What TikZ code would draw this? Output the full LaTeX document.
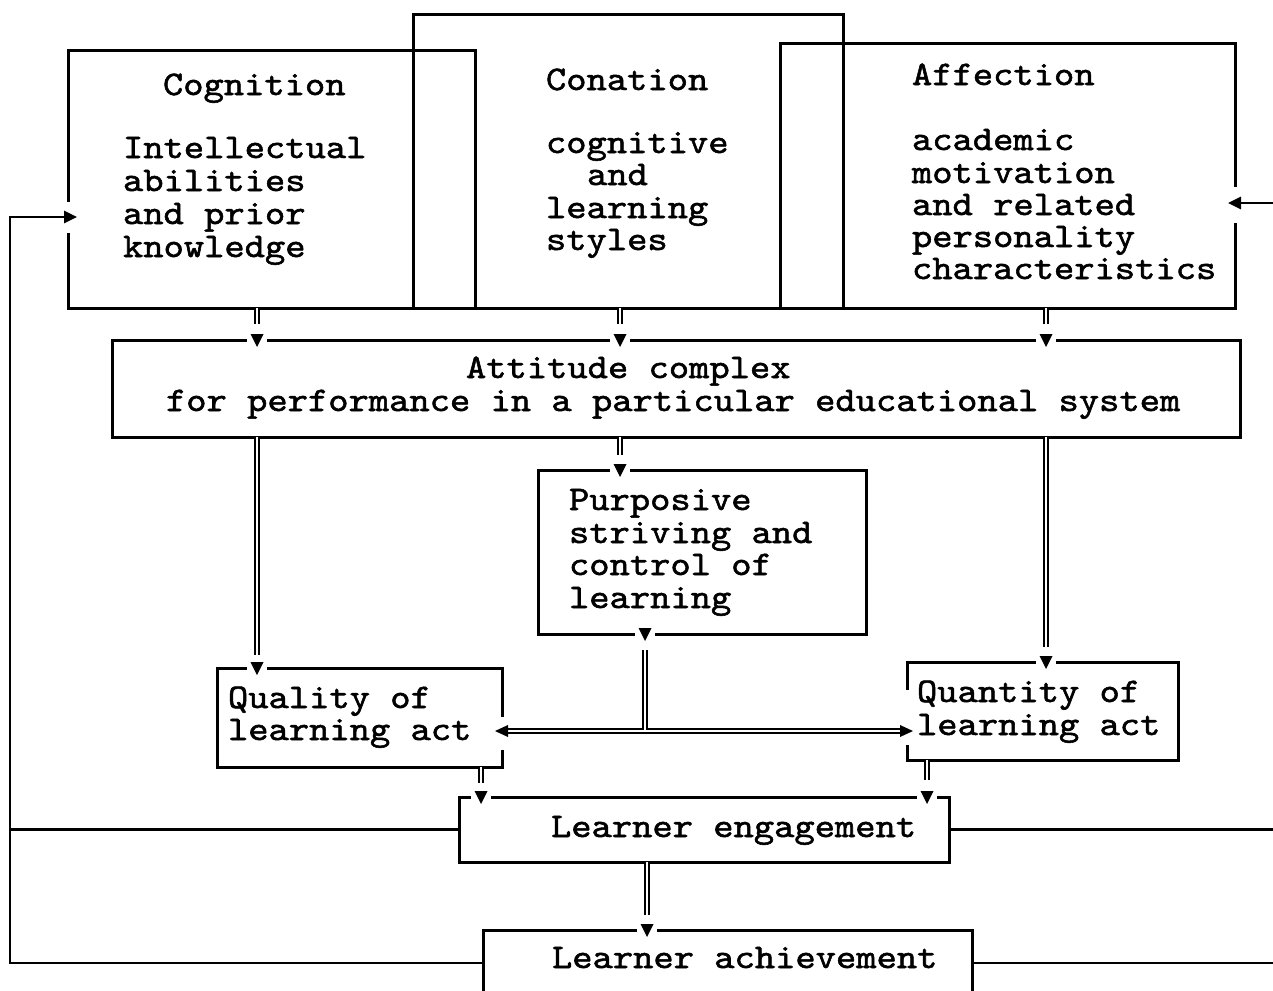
\documentclass[tikz,border=0pt]{standalone}
\usepackage{fontspec}
\newfontfamily\cour{lmmono10-regular.otf}[FakeStretch=1.12,FakeBold=1.6]
\usetikzlibrary{arrows.meta,calc}

\begin{document}
\begin{tikzpicture}[x=1pt,y=-1pt,
  box/.style={draw, line width=3pt, anchor=north west, inner sep=0pt, outer sep=0pt},
  txt/.style={anchor=base west, inner sep=0pt, outer sep=0pt,
              font=\cour\fontsize{34.5pt}{33pt}\selectfont},
  dbl/.style={draw, line width=2pt, double=white, double distance=2.8pt},
  fb/.style={line width=2.8pt},
  tip/.style={-{Triangle[width=12pt,length=13pt]}},
  % arrowhead sitting on a box edge, with a small white gap around it
  tipdown/.pic={\fill[white] (-10,-4) rectangle (10,4);
                \fill (-6.5,-6) -- (6.5,-6) -- (0,7) -- cycle;},
  tipleft/.pic={\fill (0,0) -- (13,-6) -- (13,6) -- cycle;},
  tipright/.pic={\fill (0,0) -- (-13,-6) -- (-13,6) -- cycle;}
]
\useasboundingbox (0,0) rectangle (1273,990);
\clip (0,0) rectangle (1273,990);

% ---------- boxes ----------
\node[box, minimum width=407pt,  minimum height=257pt] (cog)  at (68,51)   {};
\node[box, minimum width=430pt,  minimum height=293pt] (con)  at (413,15)  {};
\node[box, minimum width=455pt,  minimum height=264pt] (aff)  at (780,44)  {};
\node[box, minimum width=1128pt, minimum height=97pt]  (att)  at (112,340) {};
\node[box, minimum width=328pt,  minimum height=164pt] (purp) at (538,470) {};
\node[box, minimum width=285pt,  minimum height=99pt]  (qual) at (217,668) {};
\node[box, minimum width=271pt,  minimum height=98pt]  (quan) at (907,662) {};
\node[box, minimum width=490pt,  minimum height=65pt]  (eng)  at (459,797) {};
\node[box, minimum width=489pt,  minimum height=66pt]  (ach)  at (483,930) {};

% openings in the box sides where arrows enter
\fill[white] (62,202) rectangle (74,233);
\fill[white] (1229,187) rectangle (1241,223);
\fill[white] (496,717) rectangle (508,750);
\fill[white] (901,690) rectangle (913,745);

% ---------- texts ----------
\node[txt] (cogH) at (163,95)  {Cognition};
\node[txt] (cog1) at (123,158) {Intellectual};
\node[txt] (cog2) at (123,191) {abilities};
\node[txt] (cog3) at (123,224) {and prior};
\node[txt] (cog4) at (123,257) {knowledge};

\node[txt] (conH) at (546,90)  {Conation};
\node[txt] (con1) at (546,153) {cognitive};
\node[txt] (con2) at (587,185) {and};
\node[txt] (con3) at (546,218) {learning};
\node[txt] (con4) at (546,250) {styles};

\node[txt] (affH) at (912,85)  {Affection};
\node[txt] (aff1) at (912,150) {academic};
\node[txt] (aff2) at (912,183) {motivation};
\node[txt] (aff3) at (912,215) {and related};
\node[txt] (aff4) at (912,247) {personality};
\node[txt] (aff5) at (912,279) {characteristics};

\node[txt] (att1) at (466,378) {Attitude complex};
\node[txt] (att2) at (166,411) {for performance in a particular educational system};

\node[txt] (pur1) at (569,510) {Purposive};
\node[txt] (pur2) at (569,543) {striving and};
\node[txt] (pur3) at (569,575) {control of};
\node[txt] (pur4) at (569,608) {learning};

\node[txt] (qua1) at (228,708) {Quality of};
\node[txt] (qua2) at (228,740) {learning act};

\node[txt] (qnt1) at (917,702) {Quantity of};
\node[txt] (qnt2) at (917,735) {learning act};

\node[txt] (tEng) at (551,837) {Learner engagement};
\node[txt] (tAch) at (552,968) {Learner achievement};

% ---------- columns of the downward links ----------
\coordinate (cL)  at (257,0);
\coordinate (cM)  at (620,0);
\coordinate (cR)  at (1046,0);
\coordinate (cP)  at (645,0);
\coordinate (cQl) at (481,0);
\coordinate (cQr) at (927,0);
\coordinate (cE)  at (647,0);
\coordinate (split) at (645,731);

% top boxes -> attitude complex
\draw[dbl] (cog.south -| cL) -- ++(0,16);
\pic at (att.north -| cL) {tipdown};
\draw[dbl] (con.south -| cM) -- ++(0,16);
\pic at (att.north -| cM) {tipdown};
\draw[dbl] (aff.south -| cR) -- ++(0,16);
\pic at (att.north -| cR) {tipdown};

% attitude complex -> quality / purposive / quantity
\draw[dbl, shorten >=13pt] (att.south -| cL) -- (qual.north -| cL);
\pic at (qual.north -| cL) {tipdown};
\draw[dbl, shorten >=15pt] (att.south -| cM) -- (purp.north -| cM);
\pic at (purp.north -| cM) {tipdown};
\draw[dbl, shorten >=15pt] (att.south -| cR) -- (quan.north -| cR);
\pic at (quan.north -| cR) {tipdown};

% purposive striving -> both learning acts
\pic at (purp.south -| cP) {tipdown};
\draw[dbl, shorten <=6pt, shorten >=7pt] (qual.east |- split) -- (quan.west |- split);
\draw[dbl, shorten <=16pt, shorten >=1.5pt] (purp.south -| cP) -- (split);
\pic at ($(qual.east |- split)+(-7,0)$) {tipleft};
\pic at ($(quan.west |- split)+(6,0)$) {tipright};

% learning acts -> engagement
\draw[dbl] (qual.south -| cQl) -- ++(0,16);
\pic at (eng.north -| cQl) {tipdown};
\draw[dbl] (quan.south -| cQr) -- ++(0,20);
\pic at (eng.north -| cQr) {tipdown};

% engagement -> achievement
\draw[dbl, shorten >=15pt] (eng.south -| cE) -- (ach.north -| cE);
\pic at (ach.north -| cE) {tipdown};

% ---------- feedback lines ----------
\coordinate (loopTop) at (10,217);
\coordinate (cogIn) at (77,217);
\coordinate (rEdge) at (1290,0);
\coordinate (affIn) at (1228,203);

\draw[fb, tip] (ach.west) -| (loopTop) -- (cogIn);
\draw[fb] (eng.west) -- (eng.west -| loopTop);
\draw[fb] (eng.east) -- (eng.east -| rEdge);
\draw[fb] (ach.east) -- (ach.east -| rEdge);
\draw[fb, tip] (affIn -| rEdge) -- (affIn);
\end{tikzpicture}
\end{document}
